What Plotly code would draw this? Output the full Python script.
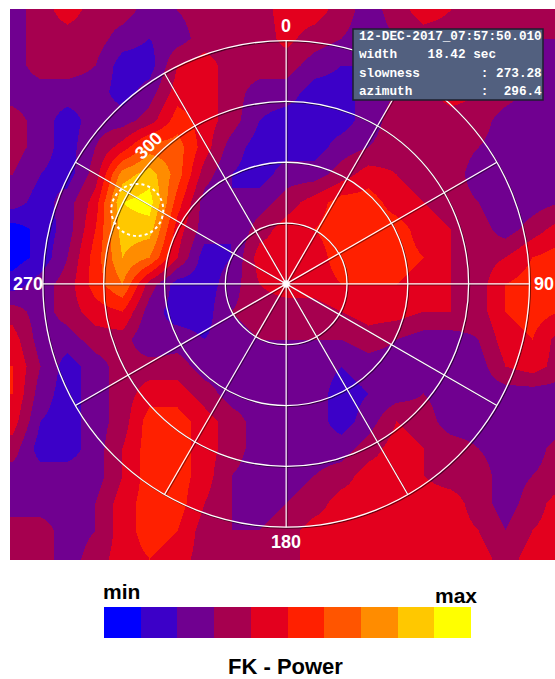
import math
import plotly.graph_objects as go

# ---------------- data ----------------
# slowness grid (x = east, y = north), cell centres
sx_values = [-450, -405, -360, -315, -270, -225, -180, -135, -90, -45, 0,
             45, 90, 135, 180, 225, 270, 315, 360, 405, 450]
sy_values_top_down = [450, 405, 360, 315, 270, 225, 180, 135, 90, 45, 0,
                      -45, -90, -135, -180, -225, -270, -315, -360, -405, -450]

# FK power level (0 = min ... 9 = max), rows from north (top) to south (bottom)
power_rows = [
    [2, 3, 4, 3, 3, 2, 2.5, 3, 3, 3, 4, 4, 3, 2, 3, 4, 3.5, 2.5, 3, 3, 2.5],
    [2, 3, 3, 3, 2, 1.5, 2, 3, 3, 3, 3.8, 3, 2.5, 2, 2.5, 3, 3, 3, 3, 2.5, 2.5],
    [2, 3, 3, 2.5, 1, 1, 3.5, 4, 3, 3, 3, 2, 1.5, 1.5, 2, 3, 3, 3, 3, 2.5, 2],
    [2, 2, 2, 2, 1, 2, 4, 4, 3, 2, 2, 1, 1, 2, 2.5, 3, 4, 3.5, 3, 2, 2],
    [3, 2, 1, 2, 2, 3, 5, 4, 3, 1.5, 1, 1, 1, 2, 3, 3, 3, 3, 2, 2, 2],
    [3, 2, 1, 2.5, 4, 6, 6, 4, 2, 1, 1, 1, 2, 2.5, 3, 3, 3, 2.5, 2, 1.5, 2],
    [2.5, 1.5, 1, 3, 7, 8, 6, 3, 1.5, 1, 2, 2, 3, 4, 3.5, 3, 3, 2, 1.5, 1.5, 2],
    [2, 1, 2, 4, 8.5, 9, 5, 2, 1.5, 2, 3, 4, 5, 5, 4, 3.5, 3, 2.5, 1.5, 2, 2.5],
    [0, 0.8, 2, 4.5, 8, 8, 4, 2, 1.5, 3, 4, 4.5, 5, 5, 5, 4, 3.5, 3, 2, 3, 4],
    [0, 0.8, 2.5, 5, 7.5, 6.5, 3.5, 1, 1.5, 4, 4, 4, 5, 5, 5, 4.5, 3.5, 3, 3.5, 4.5, 5],
    [1, 2, 3, 5, 6.5, 3, 1, 1, 2, 3.5, 4, 4, 4.5, 4.5, 4.5, 4, 3.5, 3, 4.5, 5, 5],
    [3, 2, 3, 4, 4.5, 2, 1, 1, 2.5, 3, 3, 3, 3.5, 4, 4, 3.5, 3.5, 3, 4.5, 5, 4.5],
    [4, 2, 2, 3, 3, 1.5, 2, 1.5, 2, 2.5, 2.5, 2.5, 2.5, 3, 2.5, 2, 2, 2.5, 4, 4.5, 3],
    [4.5, 2.5, 1, 2, 3, 3, 3, 2, 2, 2, 2, 2, 1.5, 2, 2, 2, 2, 2, 3.5, 4, 3],
    [4.5, 2, 1, 2, 3, 4, 4, 3, 2, 2, 2, 2, 1, 1.5, 2, 2.5, 2, 2, 2, 2, 2],
    [4, 1.5, 1, 2, 3, 5, 5, 4, 3, 2, 2, 2, 1, 2, 3.5, 3, 2, 2, 2, 1.5, 2],
    [3, 1, 1, 2, 3.5, 5, 5, 4, 3, 2, 2, 2, 2, 3, 4, 3.5, 3, 2.5, 2, 2, 3],
    [2, 2, 2, 2, 3.5, 5, 5, 4, 2.5, 2, 2, 2.5, 3, 4, 4, 3.5, 3, 3, 2, 2.5, 3],
    [2, 2, 2, 2.5, 4, 5, 5, 3.5, 2.5, 2, 2.5, 3, 4, 4, 4, 4, 4, 3, 2, 3, 4],
    [3, 3, 2, 2.5, 4, 5, 4.5, 3, 2.5, 2.5, 3, 4, 4, 4, 4, 4, 4, 3.5, 2.5, 3.5, 4],
    [3, 3, 2, 3, 4, 4.5, 4, 3, 3, 3, 3, 4, 4, 3.5, 3.5, 4, 4, 4, 3, 4, 4],
]

level_colors = ['#0000ff', '#3c00c8', '#700090', '#a6004f', '#e3001e',
                '#ff2000', '#ff5500', '#ff8c00', '#ffc800', '#ffff00']

ring_slowness = [100, 200, 300, 400]
spoke_azimuths = [0, 30, 60, 90, 120, 150, 180, 210, 240, 270, 300, 330]
axis_labels = ['0', '90', '180', '270']
axis_label_az = [0, 90, 180, 270]

info_lines = ['12-DEC-2017_07:57:50.010',
              'width    18.42 sec',
              'slowness        : 273.28',
              'azimuth         :  296.4']
best_slowness = 273.28
best_azimuth = 296.4

# ---------------- layout geometry ----------------
W, H = 555, 679
ML, MR, MT, MB = 10, 0, 9, 119
PW, PH = W - ML - MR, H - MT - MB
XR = [-454, 442]
YR = [-454, 452]


def px_x(p):
    return (p - ML) / PW


def px_y(p):
    return (H - MB - p) / PH


def pol(az, r):
    a = math.radians(az)
    return r * math.sin(a), r * math.cos(a)


unit = PW / (XR[1] - XR[0])  # pixels per slowness unit

z = power_rows[::-1]
sy_values = sy_values_top_down[::-1]

cs = []
for k, c in enumerate(level_colors):
    cs.append([k / 10, c])
    cs.append([(k + 1) / 10, c])

fig = go.Figure()
fig.add_trace(go.Heatmap(
    x=sx_values, y=sy_values, z=z, zsmooth='best',
    colorscale=cs, zmin=-0.5, zmax=9.5, hoverinfo='skip',
    colorbar=dict(orientation='h', x=px_x(287.5), xanchor='center',
                  y=px_y(607), yanchor='top', len=367, lenmode='pixels',
                  thickness=31, thicknessmode='pixels', xpad=0, ypad=0,
                  outlinewidth=0, showticklabels=False, ticks='')
))

shapes = []
sh = 1.0 / unit
# shadows
for r in ring_slowness:
    shapes.append(dict(type='circle', xref='x', yref='y', x0=-r + sh, x1=r + sh,
                       y0=-r - sh, y1=r - sh,
                       line=dict(color='rgba(0,0,0,0.55)', width=1.2)))
for az in spoke_azimuths:
    x1, y1 = pol(az, ring_slowness[-1])
    shapes.append(dict(type='line', xref='x', yref='y', x0=sh, y0=-sh,
                       x1=x1 + sh, y1=y1 - sh,
                       line=dict(color='rgba(0,0,0,0.45)', width=1.1)))
for r in ring_slowness:
    shapes.append(dict(type='circle', xref='x', yref='y', x0=-r, x1=r, y0=-r, y1=r,
                       line=dict(color='white', width=1.3)))
for az in spoke_azimuths:
    x1, y1 = pol(az, ring_slowness[-1])
    shapes.append(dict(type='line', xref='x', yref='y', x0=0, y0=0, x1=x1, y1=y1,
                       line=dict(color='white', width=1.2)))
# centre glow
g = 3 / unit
shapes.append(dict(type='circle', xref='x', yref='y', x0=-g, x1=g, y0=-g, y1=g,
                   fillcolor='white', line=dict(color='rgba(255,255,255,0.6)', width=2)))
# best beam marker
bx, by = pol(best_azimuth, best_slowness)
br = 26 / unit
shapes.append(dict(type='circle', xref='x', yref='y', x0=bx - br, x1=bx + br,
                   y0=by - br, y1=by + br,
                   line=dict(color='white', width=2, dash='dot')))
# info box
shapes.append(dict(type='rect', xref='paper', yref='paper',
                   x0=px_x(353), x1=px_x(543), y0=px_y(100), y1=px_y(29),
                   fillcolor='#52607f', line=dict(color='#1c1f2e', width=1.5)))

annotations = []
lab_font = dict(family='Liberation Sans, Arial', size=18, color='white', weight='bold')
for t, az in zip(axis_labels, axis_label_az):
    x, y = pol(az, 424)
    annotations.append(dict(x=x, y=y, xref='x', yref='y', text=t, showarrow=False,
                            xanchor='center', yanchor='middle', font=lab_font))
x3, y3 = pol(315, 320)
annotations.append(dict(x=x3, y=y3, xref='x', yref='y', text='300', showarrow=False,
                        textangle=-45, xanchor='center', yanchor='middle', font=lab_font))

line_y = [36.7, 55, 73.3, 91.2]
for t, yy in zip(info_lines, line_y):
    annotations.append(dict(x=px_x(356.5), y=px_y(yy), xref='paper', yref='paper',
                            text=t.replace(' ', '\u00a0'), showarrow=False,
                            xanchor='left', yanchor='middle',
                            font=dict(family='Liberation Mono, Courier New, monospace',
                                      size=12.7, color='white', weight='bold')))

big = dict(family='Liberation Sans, Arial', size=21, color='black', weight='bold')
annotations.append(dict(x=px_x(121), y=px_y(591), xref='paper', yref='paper', text='min',
                        showarrow=False, xanchor='center', yanchor='middle', font=big))
annotations.append(dict(x=px_x(455.5), y=px_y(595), xref='paper', yref='paper', text='max',
                        showarrow=False, xanchor='center', yanchor='middle', font=big))
annotations.append(dict(x=px_x(285), y=px_y(666.5), xref='paper', yref='paper',
                        text='FK - Power', showarrow=False, xanchor='center',
                        yanchor='middle',
                        font=dict(family='Liberation Sans, Arial', size=22,
                                  color='black', weight='bold')))

fig.update_layout(
    width=W, height=H,
    margin=dict(l=ML, r=MR, t=MT, b=MB, pad=0),
    paper_bgcolor='white', plot_bgcolor='white',
    xaxis=dict(range=XR, visible=False, fixedrange=True),
    yaxis=dict(range=YR, visible=False, fixedrange=True),
    shapes=shapes, annotations=annotations, showlegend=False,
)

fig.write_html('out.html', config={'displayModeBar': False})
